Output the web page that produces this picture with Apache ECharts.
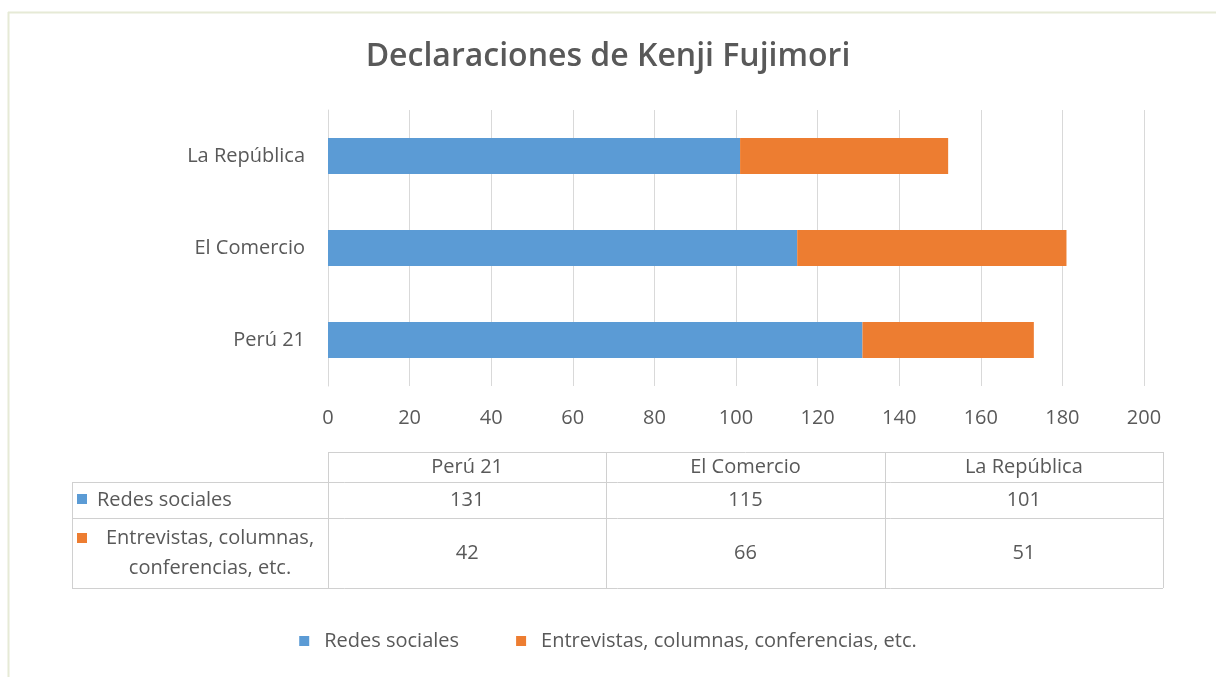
<!DOCTYPE html>
<html>
<head>
<meta charset="utf-8">
<script src="https://cdn.jsdelivr.net/npm/echarts@6/dist/echarts.min.js"></script>
<style>
  html, body { margin: 0; padding: 0; background: #fff; }
  #chart { width: 1216px; height: 677px; }
</style>
</head>
<body>
<div id="chart"></div>
<script>
// data
var categories = ['Perú 21', 'El Comercio', 'La República']
var seriesNames = ['Redes sociales', 'Entrevistas, columnas, conferencias, etc.']
var redesSociales = [131, 115, 101]
var entrevistas = [42, 66, 51]
var xTicks = [0, 20, 40, 60, 80, 100, 120, 140, 160, 180, 200]

var colors = ['#5B9BD5', '#ED7D31']
var textColor = '#595959'
var fontFamily = '"Open Sans", "Noto Sans", sans-serif'
var fs = 20

var chart = echarts.init(document.getElementById('chart'))

// table layout
var tbl = {
  left: 72,
  colStart: 328,
  right: 1163,
  top: 452,
  rows: [30, 36, 70]
}

function buildTable() {
  var els = []
  var lineStyle = { stroke: '#d0d0d0', lineWidth: 1 }
  var nCols = categories.length
  var colW = (tbl.right - tbl.colStart) / nCols
  var ys = [tbl.top]
  tbl.rows.forEach(function (h) { ys.push(ys[ys.length - 1] + h) })
  var bottom = ys[ys.length - 1]

  // horizontal lines
  els.push({ type: 'line', shape: { x1: tbl.colStart, y1: ys[0] + 0.5, x2: tbl.right, y2: ys[0] + 0.5 }, style: lineStyle, silent: true })
  for (var i = 1; i < ys.length; i++) {
    els.push({ type: 'line', shape: { x1: tbl.left, y1: ys[i] + 0.5, x2: tbl.right, y2: ys[i] + 0.5 }, style: lineStyle, silent: true })
  }
  // vertical lines
  els.push({ type: 'line', shape: { x1: tbl.left + 0.5, y1: ys[1], x2: tbl.left + 0.5, y2: bottom }, style: lineStyle, silent: true })
  for (var c = 0; c <= nCols; c++) {
    var x = Math.round(tbl.colStart + c * colW) + 0.5
    els.push({ type: 'line', shape: { x1: x, y1: ys[0], x2: x, y2: bottom }, style: lineStyle, silent: true })
  }

  var txt = function (x, y, s, align) {
    return {
      type: 'text', x: x, y: y, silent: true,
      style: { text: s, fill: textColor, font: fs + 'px ' + fontFamily, align: align || 'center', verticalAlign: 'middle', lineHeight: 30 }
    }
  }

  // header
  categories.forEach(function (cat, j) {
    els.push(txt(tbl.colStart + (j + 0.5) * colW, (ys[0] + ys[1]) / 2, cat))
  })
  // rows
  var rowsData = [redesSociales, entrevistas]
  rowsData.forEach(function (vals, r) {
    var yc = (ys[r + 1] + ys[r + 2]) / 2
    vals.forEach(function (v, j) {
      els.push(txt(tbl.colStart + (j + 0.5) * colW, yc, String(v)))
    })
  })
  // row headers
  var y1 = (ys[1] + ys[2]) / 2
  els.push({ type: 'rect', shape: { x: 77, y: y1 - 6, width: 10, height: 10 }, style: { fill: colors[0] }, silent: true })
  els.push(txt(97, y1, seriesNames[0], 'left'))
  var y2 = (ys[2] + ys[3]) / 2
  els.push({ type: 'rect', shape: { x: 77, y: y2 - 20, width: 10, height: 10 }, style: { fill: colors[1] }, silent: true })
  els.push(txt(210, y2, 'Entrevistas, columnas,\nconferencias, etc.', 'center'))

  // outer frame of the chart (top and left edges)
  els.push({ type: 'line', shape: { x1: 8, y1: 12.5, x2: 1216, y2: 12.5 }, style: { stroke: '#e6ead6', lineWidth: 2 }, silent: true })
  els.push({ type: 'line', shape: { x1: 8.5, y1: 12, x2: 8.5, y2: 677 }, style: { stroke: '#e6ead6', lineWidth: 2 }, silent: true })
  return els
}

chart.setOption({
  backgroundColor: '#fff',
  animation: false,
  title: {
    text: 'Declaraciones de Kenji Fujimori',
    left: 'center',
    top: 36,
    textStyle: { color: textColor, fontSize: 32, fontWeight: 600, fontFamily: fontFamily }
  },
  legend: {
    bottom: 21,
    left: 'center',
    itemWidth: 10,
    itemHeight: 10,
    itemGap: 57,
    icon: 'rect',
    textStyle: { color: textColor, fontSize: fs, fontFamily: fontFamily, padding: [0, 0, 0, 10] },
    data: seriesNames
  },
  grid: {
    left: 328,
    right: 72,
    top: 110,
    bottom: 291,
    containLabel: false
  },
  xAxis: {
    type: 'value',
    min: xTicks[0],
    max: xTicks[xTicks.length - 1],
    interval: 20,
    axisLine: { show: false },
    axisTick: { show: false },
    axisLabel: { color: textColor, fontSize: fs, fontFamily: fontFamily, margin: 22 },
    splitLine: { show: true, lineStyle: { color: '#d9d9d9', width: 1 } }
  },
  yAxis: {
    type: 'category',
    data: categories,
    axisLine: { show: true, lineStyle: { color: '#d9d9d9' } },
    axisTick: { show: false },
    axisLabel: { color: textColor, fontSize: fs, fontFamily: fontFamily, margin: 23 }
  },
  series: [{
    name: seriesNames[0],
    type: 'bar',
    stack: 'total',
    barWidth: 36,
    itemStyle: { color: colors[0] },
    data: redesSociales
  }, {
    name: seriesNames[1],
    type: 'bar',
    stack: 'total',
    barWidth: 36,
    itemStyle: { color: colors[1] },
    data: entrevistas
  }],
  graphic: buildTable()
})
</script>
</body>
</html>
